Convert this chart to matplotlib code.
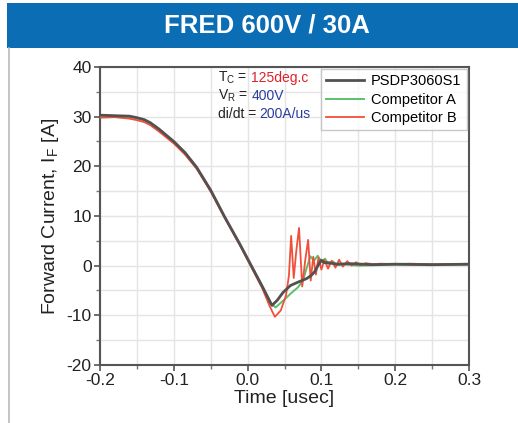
import matplotlib
matplotlib.use("Agg")
import matplotlib.pyplot as plt
from matplotlib.ticker import MultipleLocator
from matplotlib.patches import Rectangle
from matplotlib.lines import Line2D

plt.rcParams['font.family'] = ['Liberation Sans', 'DejaVu Sans']
plt.rcParams['mathtext.fontset'] = 'custom'
plt.rcParams['mathtext.rm'] = 'Liberation Sans'
plt.rcParams['axes.unicode_minus'] = False

title = "FRED 600V / 30A"
series_names = ["PSDP3060S1", "Competitor A", "Competitor B"]

# PSDP3060S1
t_black = [-0.2, -0.18, -0.16, -0.15, -0.14, -0.132, -0.12, -0.1, -0.085, -0.069, -0.05, -0.031,
           -0.01, 0.005, 0.02, 0.033, 0.04, 0.048, 0.058, 0.067, 0.08, 0.086, 0.091, 0.096,
           0.1, 0.104, 0.11, 0.12, 0.14, 0.17, 0.2, 0.25, 0.3]
y_black = [30.3, 30.2, 30.1, 29.8, 29.4, 28.8, 27.5, 25.0, 22.8, 19.8, 15.2, 9.8,
           4.2, 0.0, -4.2, -8.0, -7.0, -5.4, -4.0, -3.4, -2.6, -2.0, -1.2, 0.2,
           1.1, 0.6, 0.6, 0.3, 0.4, 0.2, 0.3, 0.2, 0.3]

# Competitor A
t_green = [-0.2, -0.18, -0.16, -0.15, -0.14, -0.132, -0.12, -0.1, -0.085, -0.069, -0.05, -0.031,
           -0.01, 0.005, 0.02, 0.03, 0.038, 0.05, 0.06, 0.068, 0.075, 0.08, 0.085, 0.09,
           0.095, 0.1, 0.105, 0.11, 0.116, 0.122, 0.13, 0.15, 0.2, 0.25, 0.3]
y_green = [30.2, 30.1, 30.0, 29.7, 29.3, 28.7, 27.4, 24.9, 22.7, 19.7, 15.1, 9.7,
           4.1, -0.1, -4.3, -7.5, -8.4, -6.8, -5.4, -4.4, -3.0, -0.5, 1.9, 1.0,
           2.0, 0.8, 1.4, 0.2, 0.8, 0.1, 0.3, 0.0, 0.2, 0.1, 0.2]

# Competitor B
t_red = [-0.2, -0.18, -0.16, -0.15, -0.14, -0.132, -0.12, -0.1, -0.085, -0.069, -0.05, -0.031,
         -0.01, 0.005, 0.02, 0.03, 0.037, 0.045, 0.052, 0.056, 0.059, 0.0625, 0.066, 0.0697,
         0.074, 0.078, 0.082, 0.0855, 0.089, 0.0925, 0.096, 0.1, 0.104, 0.109, 0.114, 0.119,
         0.124, 0.129, 0.135, 0.141, 0.147, 0.153, 0.16, 0.17, 0.18, 0.2, 0.22, 0.25, 0.3]
y_red = [29.8, 29.9, 29.6, 29.3, 28.9, 28.3, 27.0, 24.6, 22.4, 19.5, 14.9, 9.6,
         4.0, -0.3, -4.6, -8.2, -10.3, -9.0, -6.0, -2.0, 6.0, -2.5, 3.0, 7.6,
         -4.2, 1.0, 5.2, -3.0, 1.8, -1.8, 1.6, -0.8, 1.2, -0.6, 1.0, -0.4,
         1.2, -0.2, 0.9, 0.0, 0.7, 0.1, 0.5, 0.3, 0.4, 0.3, 0.4, 0.3, 0.3]

colors = ["#555050", "#5cbf6a", "#f0503a"]

fig = plt.figure(figsize=(5.18, 4.23), dpi=100)

# Header bar
fig.patches.append(Rectangle((7/518, 1 - 48/423), 1 - 7/518, 45/423, transform=fig.transFigure,
                             facecolor="#0b6db4", edgecolor="none", zorder=0))
fig.text(0.5 + 8/518, 1 - 25.5/423, title, color="white", fontsize=18.5, fontweight="bold",
         ha="center", va="center")
fig.add_artist(Line2D([8.5/518, 8.5/518], [0, 1 - 48/423], transform=fig.transFigure,
                      color="#bbbbbb", lw=1.2))

ax = fig.add_axes([100/518, 1 - 365/423, 369/518, 298/423])
ax.set_xlim(-0.2, 0.3)
ax.set_ylim(-20, 40)
ax.xaxis.set_major_locator(MultipleLocator(0.1))
ax.xaxis.set_minor_locator(MultipleLocator(0.05))
ax.yaxis.set_major_locator(MultipleLocator(10))
ax.yaxis.set_minor_locator(MultipleLocator(5))
ax.grid(True, which="both", color="#e4e4e4", lw=1.0)
ax.set_axisbelow(True)

ax.plot(t_green, y_green, color=colors[1], lw=1.4, label=series_names[1], zorder=3)
ax.plot(t_red, y_red, color=colors[2], lw=1.3, label=series_names[2], zorder=4)
ax.plot(t_black, y_black, color=colors[0], lw=2.0, label=series_names[0], zorder=5)

handles, labels = ax.get_legend_handles_labels()
order = [2, 0, 1]
leg = ax.legend([handles[i] for i in order], [labels[i] for i in order],
                loc="upper right", bbox_to_anchor=(1.0, 1.0), fontsize=10.5,
                frameon=True, fancybox=False, handlelength=2.6, borderpad=0.35,
                labelspacing=0.3, handletextpad=0.5, borderaxespad=0.15)
leg.get_frame().set_edgecolor("#bbbbbb")
leg.get_frame().set_linewidth(1.0)

for s in ax.spines.values():
    s.set_color("#555555")
    s.set_linewidth(1.5)

ax.tick_params(which="major", direction="out", length=4, width=1.2, color="#555555",
               labelsize=12.5, labelcolor="#222222", pad=2)
ax.tick_params(which="minor", direction="out", length=3, width=1.0, color="#777777")
ax.set_xticks([-0.2, -0.1, 0.0, 0.1, 0.2, 0.3])
ax.set_xticklabels(["-0.2", "-0.1", "0.0", "0.1", "0.2", "0.3"])

ax.set_xlabel("Time [usec]", fontsize=14, color="#222222", labelpad=1)
ax.set_ylabel(r"Forward Current, I$_\mathregular{F}$ [A]", fontsize=14, color="#222222",
              labelpad=4)

# Conditions annotation
x0 = 218
def ftx(px, py):
    return ax.transAxes.inverted().transform(fig.transFigure.transform((px/518, 1 - py/423)))

fs = 10
items = [
    (r"T$_\mathregular{C}$ =", "125deg.c", "#e0202a", 78),
    (r"V$_\mathregular{R}$ =", "400V", "#2b3d9c", 96),
    ("di/dt =", "200A/us", "#2b3d9c", 114),
]
fig.canvas.draw()
for lab, val, col, py in items:
    xa, ya = ftx(x0, py)
    t = ax.text(xa, ya, lab, transform=ax.transAxes, fontsize=fs, color="#222222",
                va="center", ha="left", zorder=6)
    bb = t.get_window_extent(renderer=fig.canvas.get_renderer())
    xa2, _ = ax.transAxes.inverted().transform((bb.x1 + 3.5, bb.y0))
    ax.text(xa2, ya, val, transform=ax.transAxes, fontsize=fs, color=col,
            va="center", ha="left", zorder=6)

fig.savefig("out.png", dpi=100)
